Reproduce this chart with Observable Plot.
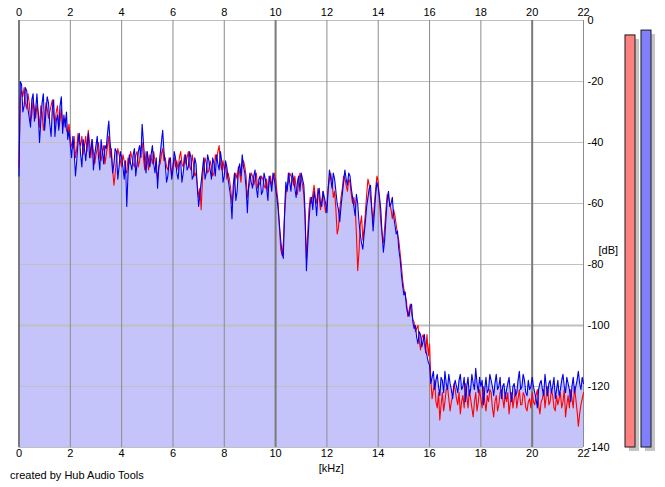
<!DOCTYPE html>
<html><head><meta charset="utf-8">
<script src="https://cdn.jsdelivr.net/npm/d3@7"></script>
<script src="https://cdn.jsdelivr.net/npm/@observablehq/plot@0.6"></script>
<style>
body{margin:0;background:#fff;}
#wrap{position:relative;width:665px;height:487px;font-family:"Liberation Sans",Arial,sans-serif;}
#chart{position:absolute;left:0;top:0;}
#meters{position:absolute;left:615px;top:0;}
#caption{position:absolute;left:10px;top:469px;font-size:11px;line-height:13px;color:#000;white-space:nowrap;}
</style></head><body>
<div id="wrap"><div id="chart"></div><div id="meters"></div><div id="caption">created by Hub Audio Tools</div></div>
<script>
// frequency grid step (kHz)
const freqStep = 0.05;
const xTicks = [0,2,4,6,8,10,12,14,16,18,20,22];
const xMajor = [0,10,20];
const xMinor = [2,4,6,8,12,14,16,18,22];
const yTicks = [0,-20,-40,-60,-80,-100,-120,-140];
const yDomain = [-140,0];

// right channel (blue), dB, 0.00 .. 22.00 kHz, one row per kHz
const blue = [
 -51,-20,-21,-30,-28,-22,-23,-29,-32,-35,-26,-24,-33,-29,-24,-31,-40,-33,-27,-24,
 -36,-30,-25,-27,-34,-38,-29,-26,-38,-33,-31,-36,-28,-25,-37,-31,-35,-30,-39,-36,
 -41,-45,-38,-43,-51,-46,-40,-37,-44,-48,-39,-42,-46,-41,-37,-45,-42,-39,-49,-44,
 -41,-38,-45,-49,-39,-43,-47,-41,-42,-37,-33,-40,-44,-50,-47,-42,-43,-52,-48,-43,
 -45,-48,-52,-46,-61,-50,-44,-47,-49,-44,-42,-51,-47,-43,-41,-45,-34,-40,-46,-50,
 -43,-46,-48,-44,-41,-47,-50,-45,-55,-48,-44,-40,-36,-43,-47,-53,-51,-46,-45,-52,
 -49,-43,-45,-50,-52,-47,-46,-53,-50,-46,-44,-49,-48,-43,-45,-52,-51,-45,-47,-55,
 -61,-57,-53,-49,-45,-52,-50,-44,-46,-49,-52,-45,-47,-51,-44,-47,-49,-43,-46,-53,
 -51,-46,-48,-52,-55,-58,-65,-54,-50,-59,-56,-49,-47,-51,-44,-48,-50,-55,-63,-54,
 -50,-53,-55,-51,-49,-55,-58,-52,-51,-57,-56,-50,-52,-55,-59,-51,-53,-56,-50,-52,
 -55,-58,-62,-67,-72,-76,-78,-63,-53,-56,-50,-53,-56,-50,-52,-55,-58,-53,-51,-56,
 -50,-52,-54,-63,-82,-74,-66,-60,-58,-62,-56,-59,-64,-57,-55,-60,-61,-56,-58,-60,
 -63,-55,-49,-52,-55,-50,-52,-56,-60,-62,-66,-61,-57,-53,-49,-52,-54,-50,-51,-55,
 -58,-61,-64,-57,-60,-66,-70,-73,-75,-70,-66,-61,-58,-55,-54,-62,-69,-63,-57,-53,
 -55,-58,-62,-70,-76,-72,-65,-59,-56,-61,-60,-58,-64,-67,-70,-69,-75,-78,-83,-87,
 -90,-89,-94,-96,-97,-94,-93,-99,-101,-100,-104,-106,-102,-103,-107,-105,-103,-108,-110,-112,
 -113,-119,-117,-115,-121,-118,-116,-120,-123,-117,-118,-122,-115,-119,-121,-116,-119,-121,-124,-120,
 -118,-120,-122,-118,-116,-121,-120,-117,-125,-120,-117,-123,-121,-116,-119,-121,-114,-119,-122,-117,
 -120,-118,-126,-121,-117,-122,-121,-116,-118,-120,-123,-119,-116,-121,-120,-117,-124,-120,-119,-124,
 -121,-119,-117,-122,-125,-120,-119,-123,-122,-118,-115,-121,-120,-116,-118,-122,-123,-118,-121,-120,
 -117,-120,-122,-124,-127,-121,-119,-118,-121,-123,-116,-120,-123,-119,-118,-122,-120,-117,-124,-121,
 -118,-123,-121,-118,-116,-120,-122,-117,-119,-121,-125,-120,-117,-122,-120,-118,-115,-119,-121,-117,
 -119
];
// left channel (red), dB
const red = [
 -48,-26,-23,-25,-22,-27,-29,-24,-27,-33,-31,-26,-29,-32,-28,-30,-35,-28,-30,-36,
 -33,-27,-29,-32,-30,-28,-26,-31,-34,-30,-28,-35,-33,-29,-35,-33,-32,-36,-37,-34,
 -39,-41,-42,-38,-45,-42,-37,-40,-41,-38,-44,-41,-38,-43,-36,-40,-45,-39,-43,-47,
 -44,-42,-40,-45,-46,-43,-41,-47,-44,-41,-38,-45,-42,-49,-54,-50,-46,-42,-44,-46,
 -48,-44,-46,-49,-50,-45,-47,-43,-45,-47,-48,-44,-43,-48,-46,-42,-40,-45,-49,-43,
 -46,-49,-44,-45,-47,-43,-46,-49,-52,-48,-47,-44,-42,-46,-45,-48,-49,-45,-48,-51,
 -47,-45,-48,-46,-49,-45,-43,-47,-48,-44,-47,-45,-43,-48,-49,-44,-47,-51,-50,-54,
 -58,-55,-62,-52,-48,-45,-47,-50,-49,-46,-48,-51,-50,-44,-46,-43,-41,-47,-49,-46,
 -49,-47,-52,-50,-52,-55,-60,-57,-53,-50,-52,-48,-50,-53,-47,-46,-48,-51,-58,-55,
 -53,-50,-51,-54,-52,-50,-55,-53,-54,-51,-52,-54,-55,-52,-56,-53,-51,-54,-52,-50,
 -52,-56,-60,-68,-75,-77,-73,-64,-57,-55,-53,-50,-51,-52,-54,-51,-55,-57,-53,-50,
 -52,-54,-57,-66,-78,-70,-62,-58,-60,-57,-54,-58,-60,-55,-58,-62,-59,-56,-60,-63,
 -60,-55,-52,-50,-53,-58,-56,-62,-70,-68,-62,-58,-55,-51,-52,-54,-56,-52,-53,-57,
 -60,-58,-61,-70,-82,-76,-67,-64,-72,-68,-63,-57,-52,-54,-58,-62,-66,-60,-55,-51,
 -53,-59,-66,-70,-73,-68,-62,-57,-58,-60,-62,-65,-62,-64,-67,-70,-72,-76,-80,-85,
 -88,-90,-92,-97,-95,-93,-96,-98,-99,-102,-101,-100,-105,-108,-104,-103,-106,-109,-103,-110,
 -106,-118,-124,-121,-118,-125,-127,-122,-131,-126,-122,-128,-125,-121,-120,-124,-128,-125,-123,-119,
 -121,-124,-126,-122,-129,-125,-123,-127,-119,-123,-127,-121,-124,-127,-130,-125,-122,-128,-125,-121,
 -124,-127,-120,-125,-128,-123,-125,-121,-122,-127,-130,-125,-123,-128,-126,-122,-121,-124,-127,-122,
 -125,-122,-129,-125,-122,-127,-124,-121,-127,-124,-121,-126,-126,-122,-123,-127,-128,-125,-124,-127,
 -122,-125,-126,-123,-121,-126,-129,-125,-124,-121,-127,-123,-120,-126,-125,-121,-123,-127,-128,-123,
 -126,-124,-122,-127,-125,-121,-130,-126,-123,-127,-121,-124,-127,-120,-124,-128,-133,-129,-126,-124,
 -122
];

// level meters
const meterChannels = ["L","R"];
const meterLevels = [-4.9,-3.3];
const meterColors = ["#ff8080","#8080ff"];

const data = blue.map((b,i)=>({f:+(i*freqStep).toFixed(2), blue:b, red:red[i]}));
const meters = meterChannels.map((c,i)=>({ch:c, db:meterLevels[i], color:meterColors[i]}));
const fmt = d => String(d);
const font = {fontFamily:"'Liberation Sans', Arial, sans-serif", fontSize:"11px", background:"transparent", color:"#000", overflow:"visible"};

const chart = Plot.plot({
  width:665, height:487,
  marginTop:20, marginBottom:40, marginLeft:18.5, marginRight:82,
  style:font,
  x:{domain:[0,22]},
  y:{domain:yDomain},
  marks:[
    Plot.areaY(data,{x:"f", y1:yDomain[0], y2:"blue", fill:"#c4c4fa"}),
    Plot.ruleY(yTicks.filter(d=>d!==-100),{stroke:"#c0c0c0", strokeWidth:1}),
    Plot.ruleY(yTicks.filter(d=>d===-100),{stroke:"#c0c0c0", strokeWidth:2}),
    Plot.ruleX(xMinor,{stroke:"#8c8c8c", strokeWidth:1}),
    Plot.ruleX(xMajor,{stroke:"#7a7a7a", strokeWidth:2}),
    Plot.line(data,{x:"f", y:"red", stroke:"#ff0000", strokeWidth:1.1}),
    Plot.line(data,{x:"f", y:"blue", stroke:"#0000f0", strokeWidth:1.1}),
    Plot.axisX({anchor:"top", ticks:xTicks, tickSize:0, tickPadding:5, tickFormat:fmt, label:null}),
    Plot.axisX({anchor:"bottom", ticks:xTicks, tickSize:0, tickPadding:2, tickFormat:fmt, label:null}),
    Plot.axisY({anchor:"right", ticks:yTicks, tickSize:0, tickPadding:4, tickFormat:fmt, label:null}),
    Plot.text(["[dB]"],{frameAnchor:"right", dx:15, dy:16, textAnchor:"start"}),
    Plot.text(["[kHz]"],{frameAnchor:"bottom", dx:30, dy:24})
  ]
});
document.getElementById("chart").appendChild(chart);

const meterPlot = Plot.plot({
  width:45, height:487,
  marginTop:20, marginBottom:40, marginLeft:0, marginRight:0,
  style:font,
  x:{domain:meterChannels, range:[10,36], paddingInner:0.375, paddingOuter:0, axis:null},
  y:{domain:yDomain, axis:null},
  color:{type:"identity"},
  marks:[
    Plot.barY(meters,{x:"ch", y1:yDomain[0], y2:"db", fill:"#c4c4c4", dx:4, dy:4}),
    Plot.barY(meters,{x:"ch", y1:yDomain[0], y2:"db", fill:"color", stroke:"#181818", strokeWidth:1})
  ]
});
document.getElementById("meters").appendChild(meterPlot);
</script>
</body></html>
